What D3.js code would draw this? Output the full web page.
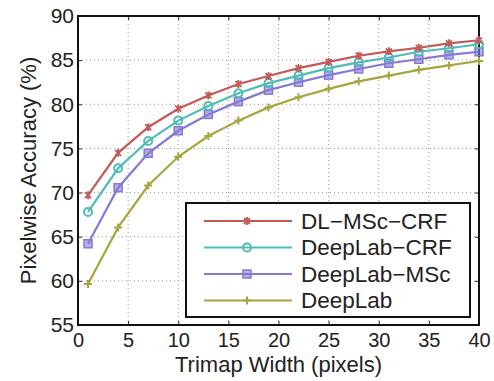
<!DOCTYPE html>
<html>
<head>
<meta charset="utf-8">
<script src="https://cdn.jsdelivr.net/npm/d3@7"></script>
<style>
  body { margin: 0; background: #fff; }
  svg { display: block; font-family: "Liberation Sans", Arial, sans-serif; }
</style>
</head>
<body>
<svg width="494" height="381"></svg>
<script>
// данные
const trimapWidth = [1, 4, 7, 10, 13, 16, 19, 22, 25, 28, 31, 34, 37, 40];
const dlMscCrf   = [69.7, 74.5, 77.4, 79.5, 81.0, 82.3, 83.2, 84.1, 84.8, 85.5, 86.0, 86.4, 86.9, 87.25];
const deeplabCrf = [67.8, 72.75, 75.85, 78.15, 79.8, 81.25, 82.4, 83.25, 84.1, 84.75, 85.3, 85.95, 86.35, 86.8];
const deeplabMsc = [64.2, 70.55, 74.45, 77.0, 78.85, 80.3, 81.6, 82.5, 83.3, 84.0, 84.65, 85.1, 85.6, 85.95];
const deeplab    = [59.65, 66.05, 70.8, 74.05, 76.4, 78.15, 79.65, 80.8, 81.75, 82.6, 83.25, 83.9, 84.4, 84.9];
const seriesNames = ["DL\u2212MSc\u2212CRF", "DeepLab\u2212CRF", "DeepLab\u2212MSc", "DeepLab"];
const xTicks = [0, 5, 10, 15, 20, 25, 30, 35, 40];
const yTicks = [55, 60, 65, 70, 75, 80, 85, 90];

const series = [
  { name: seriesNames[0], values: dlMscCrf,   color: "#c25a5a", marker: "star" },
  { name: seriesNames[1], values: deeplabCrf, color: "#4fbdb5", marker: "circle" },
  { name: seriesNames[2], values: deeplabMsc, color: "#8479d6", marker: "square" },
  { name: seriesNames[3], values: deeplab,    color: "#a6a640", marker: "plus" }
];

const svg = d3.select("svg");
const area = { left: 78, top: 16, right: 479, bottom: 325 };

const scX = d3.scaleLinear().domain([0, 40]).range([area.left, area.right]);
const scY = d3.scaleLinear().domain([55, 90]).range([area.bottom, area.top]);

// сетка (пунктир)
const grid = svg.append("g").attr("stroke", "#999").attr("stroke-dasharray", "1,3").attr("stroke-width", 1);
grid.selectAll(".gx").data(xTicks.slice(1, -1)).enter().append("line")
  .attr("x1", d => scX(d)).attr("x2", d => scX(d))
  .attr("y1", area.top).attr("y2", area.bottom);
grid.selectAll(".gy").data(yTicks.slice(1, -1)).enter().append("line")
  .attr("y1", d => scY(d)).attr("y2", d => scY(d))
  .attr("x1", area.left).attr("x2", area.right);

// оси: тики внутрь, как в matlab
const tickLen = 4;
const axB = svg.append("g").attr("transform", `translate(0, ${area.bottom})`)
  .call(d3.axisBottom(scX).tickValues(xTicks).tickSize(-tickLen).tickPadding(8));
const axL = svg.append("g").attr("transform", `translate(${area.left}, 0)`)
  .call(d3.axisLeft(scY).tickValues(yTicks).tickSize(-tickLen).tickPadding(4));
svg.append("g").attr("transform", `translate(0, ${area.top})`)
  .call(d3.axisTop(scX).tickValues(xTicks).tickSize(-tickLen).tickFormat(""));
svg.append("g").attr("transform", `translate(${area.right}, 0)`)
  .call(d3.axisRight(scY).tickValues(yTicks).tickSize(-tickLen).tickFormat(""));
svg.selectAll(".domain").remove();
svg.selectAll(".tick line").attr("stroke", "#222");
axB.selectAll("text").style("font-size", "20px").attr("fill", "#222");
axL.selectAll("text").style("font-size", "21px").attr("fill", "#222");

svg.append("rect")
  .attr("x", area.left).attr("y", area.top)
  .attr("width", area.right - area.left).attr("height", area.bottom - area.top)
  .attr("fill", "none").attr("stroke", "#111").attr("stroke-width", 2);

// подписи осей
svg.append("text")
  .attr("x", (area.left + area.right) / 2).attr("y", 372)
  .attr("text-anchor", "middle").style("font-size", "22px").attr("fill", "#222")
  .text("Trimap Width (pixels)");
svg.append("text")
  .attr("transform", `translate(36, ${(area.top + area.bottom) / 2}) rotate(-90)`)
  .attr("text-anchor", "middle").style("font-size", "22px").attr("fill", "#222")
  .text("Pixelwise Accuracy (%)");

function drawMarker(g, type, x, y, color) {
  if (type == "circle") {
    g.append("circle").attr("cx", x).attr("cy", y).attr("r", 4)
      .attr("fill", "none").attr("stroke", color).attr("stroke-width", 2);
  } else if (type == "square") {
    g.append("rect").attr("x", x - 4).attr("y", y - 4).attr("width", 8).attr("height", 8)
      .attr("fill", color).attr("fill-opacity", 0.6).attr("stroke", color).attr("stroke-width", 1.5);
  } else if (type == "star") {
    g.append("path").attr("d", `M${x-3},${y-3}L${x+3},${y+3}M${x-3},${y+3}L${x+3},${y-3}M${x},${y-4}L${x},${y+4}`)
      .attr("stroke", color).attr("stroke-width", 1.8);
  } else {
    g.append("path").attr("d", `M${x-4},${y}L${x+4},${y}M${x},${y-4}L${x},${y+4}`)
      .attr("stroke", color).attr("stroke-width", 2);
  }
}

// линии и маркеры
const line = d3.line().x(d => scX(d[0])).y(d => scY(d[1]));
series.slice().reverse().forEach(s => {
  const pts = trimapWidth.map((w, i) => [w, s.values[i]]);
  const g = svg.append("g");
  g.append("path").datum(pts).attr("d", line)
    .attr("fill", "none").attr("stroke", s.color).attr("stroke-width", 2.2);
  pts.forEach(p => drawMarker(g, s.marker, scX(p[0]), scY(p[1]), s.color));
});

// легенда
const leg = { x: 186, y: 203, w: 284, h: 114 };
svg.append("rect").attr("x", leg.x).attr("y", leg.y).attr("width", leg.w).attr("height", leg.h)
  .attr("fill", "#fff").attr("stroke", "#111").attr("stroke-width", 2);
series.forEach((s, i) => {
  const y = 221 + i * 26.5;
  const g = svg.append("g");
  g.append("line").attr("x1", 204).attr("x2", 292).attr("y1", y).attr("y2", y)
    .attr("stroke", s.color).attr("stroke-width", 2.2);
  drawMarker(g, s.marker, 247, y, s.color);
  g.append("text").attr("x", 301).attr("y", y + 7.5)
    .style("font-size", "22.5px").attr("fill", "#222").text(s.name);
});
</script>
</body>
</html>
